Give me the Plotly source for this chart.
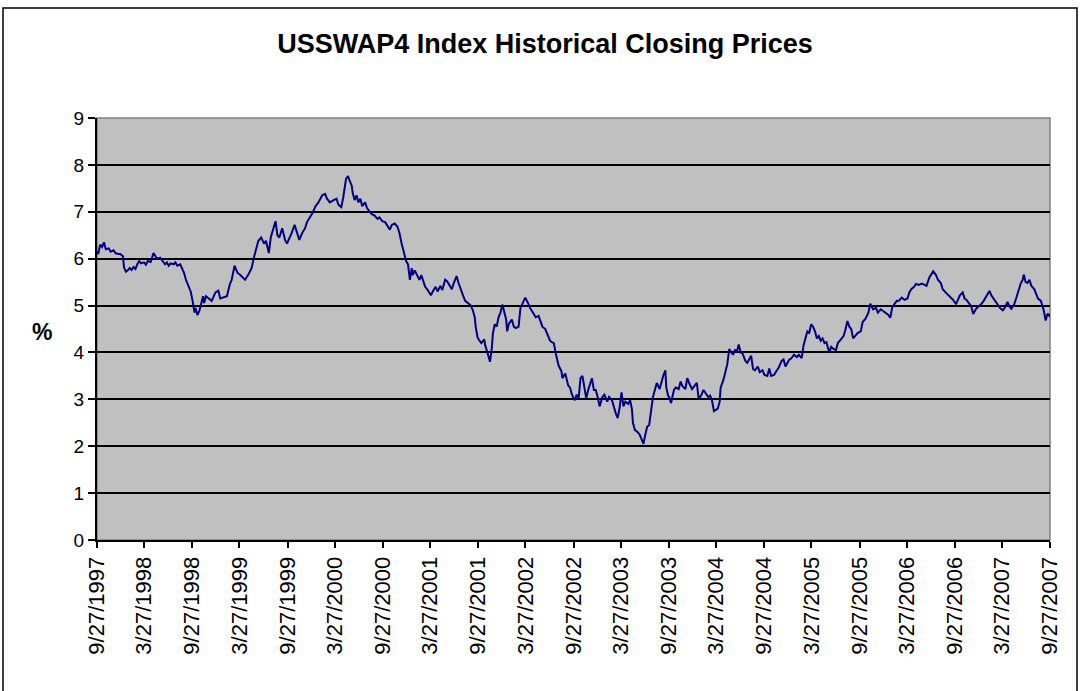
import pandas as pd
import plotly.graph_objects as go

# Decimal-year positions (origin 9/27/1997 = 1997.737)
years = [
 1997.74,1997.75,1997.77,1997.79,1997.81,1997.83,1997.86,1997.88,1997.91,1997.93,1997.96,1997.98,
 1998.01,1998.02,1998.04,1998.06,1998.08,1998.10,1998.12,1998.14,1998.16,1998.18,1998.20,1998.23,
 1998.25,1998.27,1998.30,1998.32,1998.33,1998.36,1998.38,1998.40,1998.43,1998.45,1998.47,1998.49,
 1998.51,1998.54,1998.56,1998.58,1998.61,1998.63,1998.65,1998.67,1998.70,1998.72,1998.74,1998.76,
 1998.77,1998.79,1998.81,1998.83,1998.85,1998.86,1998.88,1998.91,1998.94,1998.98,
 1999.01,1999.03,1999.07,1999.10,1999.13,1999.15,1999.18,1999.21,1999.24,1999.27,1999.29,1999.33,
 1999.36,1999.38,1999.41,1999.43,1999.46,1999.49,1999.51,1999.54,1999.56,1999.58,1999.61,1999.63,
 1999.65,1999.68,1999.71,1999.73,1999.76,1999.78,1999.81,1999.84,1999.86,1999.89,1999.92,1999.94,
 1999.98,2000.00,2000.03,2000.06,2000.10,2000.13,2000.15,2000.18,2000.22,2000.25,2000.27,2000.30,
 2000.32,2000.34,2000.35,2000.37,2000.39,2000.41,2000.42,2000.44,2000.46,2000.48,2000.50,2000.52,
 2000.55,2000.57,2000.60,2000.62,2000.65,2000.68,2000.70,2000.73,2000.76,2000.78,2000.81,2000.83,
 2000.86,2000.89,2000.91,2000.93,2000.96,2000.98,2001.00,2001.02,2001.04,2001.05,2001.07,2001.10,
 2001.12,2001.14,2001.16,2001.18,2001.20,2001.22,2001.24,2001.26,2001.29,2001.31,2001.34,2001.36,
 2001.39,2001.41,2001.44,2001.46,2001.48,2001.51,2001.53,2001.55,2001.58,2001.60,2001.63,2001.66,
 2001.68,2001.70,2001.71,2001.73,2001.75,2001.77,2001.80,2001.81,2001.83,2001.86,2001.88,2001.89,
 2001.91,2001.93,2001.95,2001.97,2001.99,2002.01,2002.03,2002.04,2002.06,2002.09,2002.11,2002.13,
 2002.16,2002.18,2002.20,2002.23,2002.26,2002.28,2002.31,2002.34,2002.37,2002.39,2002.41,2002.44,
 2002.47,2002.49,2002.51,2002.53,2002.55,2002.58,2002.61,2002.62,2002.65,2002.68,2002.70,2002.72,
 2002.75,2002.77,2002.79,2002.81,2002.83,2002.85,2002.87,2002.89,2002.91,2002.93,2002.95,2002.97,
 2002.99,2003.01,2003.04,2003.06,2003.09,2003.11,2003.14,2003.16,2003.18,2003.20,2003.22,2003.24,
 2003.26,2003.28,2003.31,2003.33,2003.35,2003.36,2003.38,2003.41,2003.43,2003.45,2003.47,2003.49,
 2003.51,2003.53,2003.55,2003.57,2003.59,2003.61,2003.64,2003.66,2003.68,2003.70,2003.71,2003.73,
 2003.74,2003.76,2003.79,2003.81,2003.84,2003.86,2003.88,2003.91,2003.93,2003.96,2003.98,
 2004.01,2004.03,2004.05,2004.08,2004.10,2004.12,2004.15,2004.17,2004.19,2004.21,2004.23,2004.25,
 2004.27,2004.28,2004.31,2004.33,2004.35,2004.37,2004.39,2004.41,2004.43,2004.45,2004.47,2004.49,
 2004.51,2004.54,2004.56,2004.58,2004.60,2004.62,2004.64,2004.67,2004.69,2004.72,2004.74,2004.77,
 2004.79,2004.81,2004.84,2004.87,2004.89,2004.92,2004.94,2004.96,2004.98,
 2005.00,2005.02,2005.05,2005.08,2005.10,2005.13,2005.15,2005.17,2005.19,2005.21,2005.23,2005.25,
 2005.27,2005.29,2005.31,2005.33,2005.35,2005.37,2005.39,2005.42,2005.44,2005.46,2005.49,2005.51,
 2005.54,2005.57,2005.59,2005.61,2005.63,2005.65,2005.67,2005.69,2005.72,2005.75,2005.77,2005.80,
 2005.83,2005.85,2005.88,2005.91,2005.93,2005.96,2005.99,2006.01,2006.04,2006.06,2006.08,2006.11,
 2006.13,2006.15,2006.18,2006.21,2006.24,2006.26,2006.28,2006.31,2006.33,2006.36,2006.39,2006.41,
 2006.44,2006.47,2006.49,2006.51,2006.54,2006.56,2006.59,2006.61,2006.64,2006.67,2006.69,2006.72,
 2006.75,2006.77,2006.79,2006.82,2006.84,2006.86,2006.89,2006.91,2006.93,2006.96,2006.98,
 2007.01,2007.04,2007.07,2007.10,2007.12,2007.15,2007.18,2007.21,2007.24,2007.26,2007.29,2007.31,
 2007.33,2007.36,2007.38,2007.40,2007.43,2007.45,2007.46,2007.48,2007.50,2007.52,2007.54,2007.57,
 2007.59,2007.61,2007.64,2007.66,2007.67,2007.69,2007.71,2007.73,2007.74,
]

rates = [
 6.15,6.10,6.30,6.25,6.35,6.20,6.22,6.15,6.18,6.12,6.10,6.10,
 6.05,5.82,5.72,5.75,5.80,5.76,5.82,5.78,5.88,5.95,5.90,5.92,
 5.87,5.95,5.93,6.05,6.12,6.02,6.00,6.02,5.95,5.88,5.92,5.85,
 5.90,5.88,5.92,5.85,5.88,5.80,5.70,5.55,5.40,5.30,5.10,4.85,
 4.95,4.80,4.88,5.05,5.20,5.05,5.20,5.15,5.10,5.28,
 5.32,5.15,5.18,5.20,5.45,5.55,5.85,5.70,5.65,5.60,5.55,5.68,
 5.80,6.00,6.20,6.38,6.45,6.32,6.38,6.12,6.45,6.60,6.80,6.50,
 6.45,6.65,6.40,6.32,6.45,6.55,6.72,6.50,6.40,6.55,6.65,6.78,
 6.90,6.98,7.12,7.20,7.35,7.38,7.28,7.20,7.25,7.28,7.15,7.10,
 7.30,7.60,7.70,7.76,7.65,7.55,7.40,7.25,7.35,7.20,7.28,7.12,
 7.20,7.08,7.00,6.95,6.92,6.85,6.88,6.80,6.78,6.72,6.62,6.72,
 6.75,6.68,6.55,6.35,6.10,5.95,5.88,5.55,5.80,5.65,5.75,5.62,
 5.55,5.65,5.50,5.40,5.35,5.28,5.22,5.30,5.40,5.30,5.42,5.33,
 5.55,5.52,5.40,5.35,5.48,5.63,5.48,5.35,5.20,5.10,5.05,5.00,
 4.90,4.75,4.55,4.32,4.25,4.20,4.28,4.15,4.02,3.80,4.10,4.40,
 4.60,4.55,4.75,4.85,5.02,4.88,4.70,4.45,4.62,4.70,4.55,4.52,
 4.55,4.95,5.05,5.17,5.05,4.95,4.85,4.75,4.78,4.65,4.55,4.50,
 4.35,4.25,4.22,4.20,3.98,3.72,3.60,3.45,3.55,3.30,3.25,3.10,
 2.98,3.10,3.02,3.45,3.50,3.20,3.02,3.20,3.35,3.45,3.20,3.20,
 3.05,2.85,3.05,3.10,2.95,3.05,2.98,2.82,2.70,2.60,2.82,3.15,
 2.85,2.95,2.90,2.98,2.78,2.50,2.35,2.30,2.25,2.15,2.05,2.25,
 2.42,2.45,2.80,3.05,3.20,3.35,3.22,3.40,3.52,3.62,3.25,3.07,
 3.05,2.92,3.20,3.25,3.22,3.38,3.28,3.22,3.45,3.30,3.22,
 3.30,3.35,3.00,3.10,3.20,3.15,3.05,3.08,2.97,2.75,2.78,2.80,
 2.95,3.25,3.42,3.62,3.75,4.07,4.00,3.95,4.05,4.02,4.17,4.00,
 3.98,3.82,3.78,3.85,3.93,3.65,3.62,3.70,3.58,3.62,3.52,3.50,
 3.66,3.50,3.52,3.62,3.68,3.82,3.85,3.70,3.78,
 3.85,3.87,3.95,3.90,3.95,3.88,4.15,4.30,4.45,4.42,4.60,4.55,
 4.45,4.30,4.35,4.25,4.30,4.20,4.22,4.00,4.12,4.08,4.05,4.20,
 4.27,4.35,4.49,4.67,4.55,4.50,4.30,4.35,4.42,4.45,4.65,4.72,
 4.85,5.04,4.92,4.95,4.85,4.92,4.88,4.85,4.80,4.74,4.96,5.05,
 5.10,5.10,5.17,5.12,5.15,5.28,5.35,5.40,5.46,5.44,5.47,5.45,
 5.42,5.60,5.68,5.73,5.65,5.55,5.48,5.35,5.28,5.22,5.18,5.12,
 5.03,5.12,5.22,5.28,5.15,5.12,5.03,4.98,4.82,4.93,4.97,
 5.02,5.10,5.20,5.31,5.22,5.12,5.02,4.95,4.90,4.95,5.08,4.98,
 4.93,5.03,5.15,5.30,5.48,5.55,5.66,5.50,5.48,5.55,5.42,5.35,
 5.25,5.15,5.10,4.97,4.90,4.68,4.83,4.78,4.82,
]

tick_dates = [
 "1997-09-27","1998-03-27","1998-09-27","1999-03-27","1999-09-27","2000-03-27",
 "2000-09-27","2001-03-27","2001-09-27","2002-03-27","2002-09-27","2003-03-27",
 "2003-09-27","2004-03-27","2004-09-27","2005-03-27","2005-09-27","2006-03-27",
 "2006-09-27","2007-03-27","2007-09-27",
]
tick_labels = [
 "9/27/1997","3/27/1998","9/27/1998","3/27/1999","9/27/1999","3/27/2000",
 "9/27/2000","3/27/2001","9/27/2001","3/27/2002","9/27/2002","3/27/2003",
 "9/27/2003","3/27/2004","9/27/2004","3/27/2005","9/27/2005","3/27/2006",
 "9/27/2006","3/27/2007","9/27/2007",
]

origin = pd.Timestamp("1997-09-27")
dates = [origin + pd.to_timedelta((y - 1997.737) * 365.25, unit="D") for y in years]

FONT = "Liberation Sans, Arial, sans-serif"

# body margin is removed by the post script, so the figure fills the window
W, H = 1080, 691
L, T, R, B = 97, 118, 30, 151
PW, PH = W - L - R, H - T - B

def px_x(px):
    return (px - L) / PW

def px_y(py):
    return (H - B - py) / PH

fig = go.Figure()
fig.add_trace(go.Scatter(
    x=dates, y=rates, mode="lines",
    line=dict(color="#000080", width=2),
    showlegend=False, hoverinfo="x+y",
))

fig.update_layout(
    width=W, height=H,
    margin=dict(l=L, r=R, t=T, b=B),
    paper_bgcolor="white",
    plot_bgcolor="#C0C0C0",
    font=dict(family=FONT, color="black"),
    title=dict(
        text="<b>USSWAP4 Index Historical Closing Prices</b>",
        x=545 / W, xref="container", xanchor="center",
        y=1 - 44 / H, yref="container", yanchor="middle",
        font=dict(family=FONT, size=27, color="black"),
    ),
    xaxis=dict(
        type="date",
        range=[tick_dates[0], tick_dates[-1]],
        tickmode="array", tickvals=tick_dates, ticktext=tick_labels,
        tickangle=-90,
        tickfont=dict(family=FONT, size=22, color="black"),
        ticks="outside", ticklen=6, tickcolor="black", tickwidth=1.5,
        showline=True, linecolor="black", linewidth=2,
        showgrid=False, zeroline=False,
    ),
    yaxis=dict(
        range=[0, 9], dtick=1, tick0=0,
        tickfont=dict(family=FONT, size=19, color="black"),
        ticks="outside", ticklen=7, tickcolor="black", tickwidth=1.5,
        showline=True, linecolor="black", linewidth=2,
        showgrid=True, gridcolor="black", gridwidth=1.5,
        zeroline=False,
    ),
    shapes=[
        dict(type="rect", xref="paper", yref="paper", x0=0, x1=1, y0=0, y1=1,
             line=dict(color="#808080", width=1.5), layer="below"),
        dict(type="rect", xref="paper", yref="paper",
             x0=px_x(3), x1=px_x(1077), y0=px_y(720), y1=px_y(8),
             line=dict(color="black", width=1.5), fillcolor="rgba(0,0,0,0)"),
    ],
    annotations=[
        dict(text="<b>%</b>", xref="paper", yref="paper",
             x=px_x(42), y=px_y(332), xanchor="center", yanchor="middle",
             showarrow=False, font=dict(family=FONT, size=23, color="black")),
    ],
)

fig.write_html(
    "out.html",
    config={"displayModeBar": False},
    post_script="document.body.style.margin='0px';document.body.style.overflow='hidden';",
)
